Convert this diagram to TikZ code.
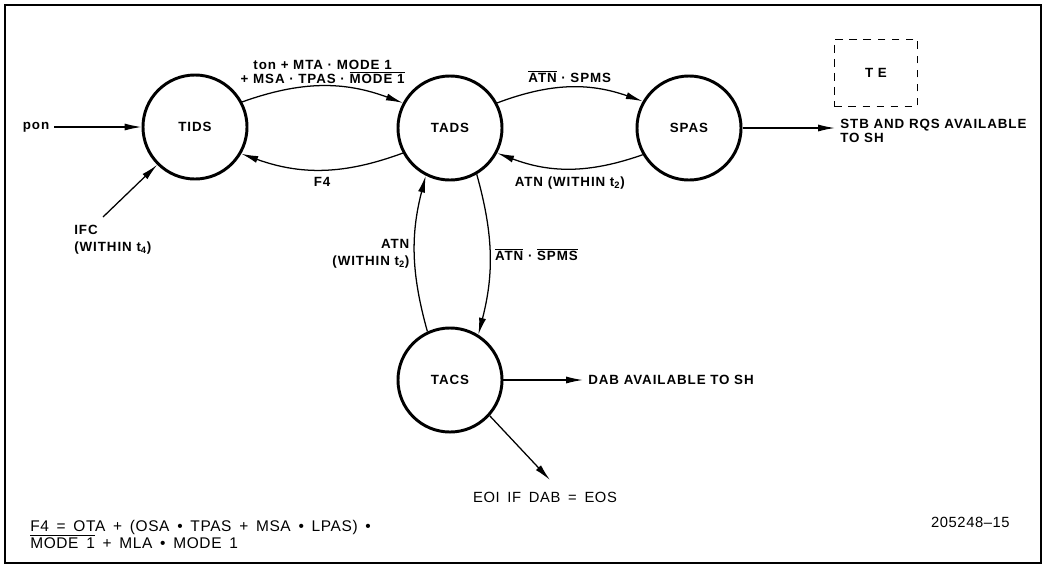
\documentclass[tikz,border=0pt]{standalone}
\usepackage{fontspec}
\setmainfont{Liberation Sans}
\newfontfamily\lblfont[LetterSpace=7]{Liberation Sans}
\newfontfamily\txtfont[LetterSpace=4]{Liberation Sans}
\usetikzlibrary{arrows.meta}
\newcommand{\ovl}[1]{$\overline{\mbox{#1}}$}
\newcommand{\widesp}{\spaceskip=5.5pt plus 1pt\relax}

\begin{document}
\begin{tikzpicture}[x = 0.025cm, y = -0.025cm, line width = 0.9pt,
    every node/.style = {font = \lblfont\bfseries\fontsize{9.5}{12}\selectfont},
    state/.style = {circle, draw, line width = 2.1pt, minimum size = 2.6cm, inner sep = 0pt},
    arr/.style = {-{Latex[length = 12pt, width = 5pt]}},
    plain/.style = {font = \txtfont\fontsize{10.5}{11.5}\selectfont\widesp},
    formula/.style = {font = \txtfont\fontsize{11}{12}\selectfont\widesp}]
\useasboundingbox (0,0) rectangle (1044,567);
\draw[line width = 1.4pt] (5,5) rectangle (1041,563);
\draw (195,127) node[state](tids){TIDS}
    (450,128) node[state](tads){TADS}
    (689,128) node[state](spas){SPAS}
    (450,380) node[state](tacs){TACS};
\path (36,127) node(pon){pon}
    (69,220) node[anchor = north west, align = left](ifc){IFC\\(WITHIN t\textsubscript{4})}
    (876,73) node[draw, dashed, line width = 1pt, dash pattern = on 5.5pt off 4.5pt,
        minimum width = 2.08cm, minimum height = 1.68cm](te){T E}
    (835,114) node[anchor = north west, align = left, font = \lblfont\bfseries\fontsize{9.5}{10}\selectfont](stb){STB AND RQS AVAILABLE\\TO SH}
    (583,380) node[anchor = west](dab){DAB AVAILABLE TO SH}
    (545,497) node[plain](eoi){EOI IF DAB = EOS}
    (25,515) node[formula, anchor = north west, align = left](fml){F4 = OTA + (OSA • TPAS + MSA • LPAS) •\\\ovl{MODE 1} + MLA • MODE 1}
    (1015,522) node[plain, anchor = east](fig){205248–15};
\coordinate (ifcin) at (103,217);
\coordinate (eoitip) at (550,480);
% inputs and outputs
\draw[arr] (pon) -- (tids);
\draw[arr] (ifcin) -- (tids.225);
\draw[arr] (spas.east) -- (spas.east -| stb.west);
\draw[arr] (tacs.east) -- (tacs.east -| dab.west);
\draw[arr] (tacs.-42) -- (eoitip);
% transitions
\draw[arr] (tids.28) to[bend left = 20] node[midway, above, inner sep = 1.5pt, align = center]
    {ton + MTA · MODE 1\\[-2pt]+ MSA · TPAS · \ovl{MODE 1}} (tads.152);
\draw[arr] (tads.208) to[bend left = 20] node[midway, below = 2pt] {F4} (tids.-30);
\draw[arr] (tads.28) to[bend left = 20] node[midway, above] {\ovl{ATN} · SPMS} (spas.150);
\draw[arr] (spas.210) to[bend left = 20] node[midway, below = 2pt] {ATN (WITHIN t\textsubscript{2})} (tads.-28);
\draw[arr] (tads.-60) to[bend left = 15] node[midway, right] {\ovl{ATN} · \ovl{SPMS}} (tacs.58);
\draw[arr] (tacs.115) to[bend left = 15] node[midway, left, align = right] {ATN\\(WITHIN t\textsubscript{2})} (tads.243);
\end{tikzpicture}
\end{document}
